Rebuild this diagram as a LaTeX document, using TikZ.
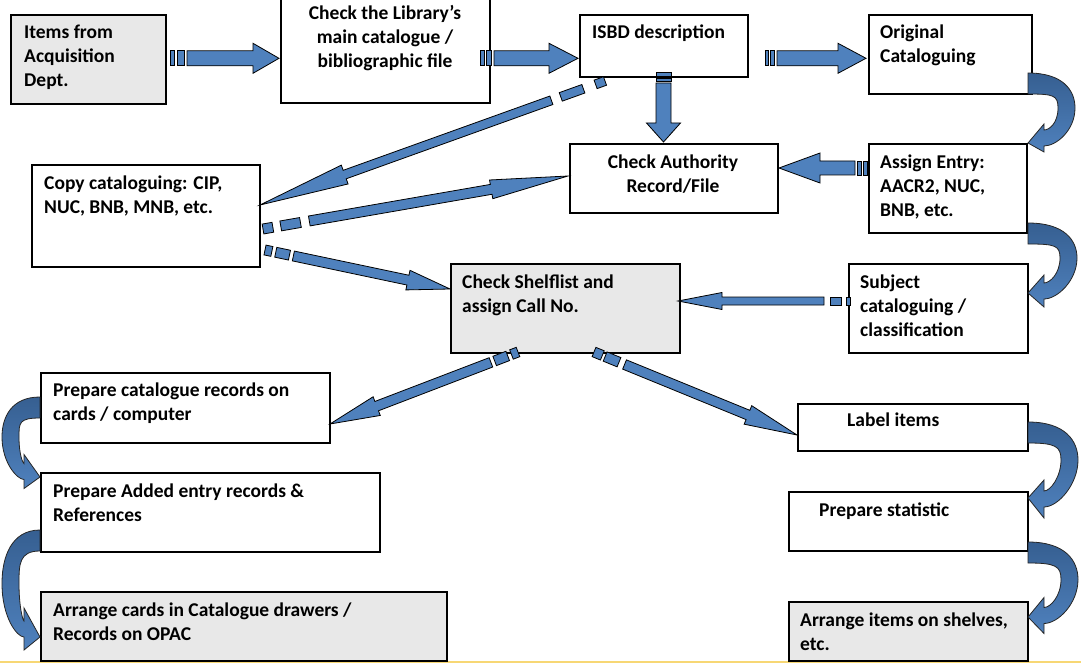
\documentclass[tikz,border=0pt]{standalone}
\usepackage{fontspec}
\setmainfont{Carlito}
\usetikzlibrary{calc}
\definecolor{arrowblue}{HTML}{4F81BD}
\definecolor{curvedark}{HTML}{365F91}
\definecolor{boxgray}{HTML}{E8E8E8}
\definecolor{baseyellow}{HTML}{F7D774}
\tikzset{
  box/.style={draw=black, line width=1.8pt, fill=white, inner sep=0pt, anchor=north west},
  graybox/.style={box, fill=boxgray},
  boxtext/.style={font=\bfseries\fontsize{19.5}{24}\selectfont, inner sep=0pt, align=left, anchor=north west, yshift=7.5pt},
  boxtextc/.style={boxtext, align=center, anchor=north},
  arrowbody/.style={fill=arrowblue, draw=black, line width=0.8pt, line join=miter},
  curvestyle/.style={draw=black!85, line width=0.8pt, top color=curvedark, bottom color=arrowblue, line join=miter},
}
% striped block arrow: from, to, half body, half head, head length, stripe1 end, stripe2 start, stripe2 end, body start
\newcommand\stripedblock[9]{%
  \coordinate (sa0) at ($(#1)!#9pt!(#2)$);
  \coordinate (sab) at ($(#2)!#5pt!(#1)$);
  \coordinate (ss1) at ($(#1)!#6pt!(#2)$);
  \coordinate (ss2) at ($(#1)!#7pt!(#2)$);
  \coordinate (ss3) at ($(#1)!#8pt!(#2)$);
  \draw[arrowbody] ($(sa0)!#3pt!90:(#2)$) -- ($(sab)!#3pt!90:(#2)$) -- ($(sab)!#4pt!90:(#2)$) -- (#2)
     -- ($(sab)!#4pt!-90:(#2)$) -- ($(sab)!#3pt!-90:(#2)$) -- ($(sa0)!#3pt!-90:(#2)$) -- cycle;
  \draw[arrowbody] ($(#1)!#3pt!90:(#2)$) -- ($(ss1)!#3pt!90:(#2)$) -- ($(ss1)!#3pt!-90:(#2)$) -- ($(#1)!#3pt!-90:(#2)$) -- cycle;
  \draw[arrowbody] ($(ss2)!#3pt!90:(#2)$) -- ($(ss3)!#3pt!90:(#2)$) -- ($(ss3)!#3pt!-90:(#2)$) -- ($(ss2)!#3pt!-90:(#2)$) -- cycle;
}
% curved block arrow: X, top of start, tip y, bulge, direction (1 right, -1 left), head half width, head centre offset above tip
\newcommand\curvedblock[7]{%
  \begin{scope}[shift={(#1,#2)}, xscale=#5]
    \pgfmathsetmacro\cH{#3-#2}
    \draw[curvestyle] (0,0) .. controls ({0.75*#4},0) and (#4,{0.25*\cH}) .. (#4,{0.5*\cH})
      .. controls (#4,{0.82*\cH}) and ({0.6*#4},{\cH-#7+8}) .. (16,{\cH-#7+8})
      -- (16,{\cH-#7+#6}) -- (0,\cH) -- (16,{\cH-#7-#6}) -- (16,{\cH-#7-8})
      .. controls ({0.45*#4},{\cH-#7-8}) and ({#4-17},{0.72*\cH}) .. ({#4-17},{0.5*\cH})
      .. controls ({#4-17},{0.32*\cH}) and ({0.55*#4},21) .. (0,21) -- cycle;
  \end{scope}}
\begin{document}
\begin{tikzpicture}[x=1pt,y=-1pt]
\useasboundingbox (0,0) rectangle (1081,663);
\fill[white] (0,0) rectangle (1081,663);
\draw[baseyellow, line width=1.5pt] (0,662) -- (1081,662);
% boxes
\node[graybox, minimum width=155, minimum height=89] (b1) at (10,14) {};
\node[box, minimum width=209, minimum height=107] (b2) at (280,-5) {};
\node[box, minimum width=168, minimum height=62] (b3) at (579,14) {};
\node[box, minimum width=163, minimum height=79] (b4) at (868,14) {};
\node[box, minimum width=208, minimum height=69] (b5) at (569,143) {};
\node[box, minimum width=158, minimum height=89] (b6) at (868,143) {};
\node[box, minimum width=228, minimum height=102] (b7) at (31,164) {};
\node[graybox, minimum width=229, minimum height=89] (b8) at (450,263) {};
\node[box, minimum width=179, minimum height=89] (b9) at (848,263) {};
\node[box, minimum width=289, minimum height=70] (b10) at (40,372) {};
\node[box, minimum width=230, minimum height=47] (b11) at (797,403) {};
\node[box, minimum width=339, minimum height=79] (b12) at (40,472) {};
\node[box, minimum width=239, minimum height=59] (b13) at (788,491) {};
\node[graybox, minimum width=406, minimum height=69] (b14) at (40,591) {};
\node[graybox, minimum width=239, minimum height=59] (b15) at (788,601) {};
% straight striped arrows
\coordinate (aA0) at (170,58.3); \coordinate (aA1) at (279,58.3);
\stripedblock{aA0}{aA1}{7.5}{15}{26}{4}{7}{14}{17}
\coordinate (aB0) at (480,58.3); \coordinate (aB1) at (578,58.3);
\stripedblock{aB0}{aB1}{7.5}{15}{29}{4}{6}{11}{14}
\coordinate (aC0) at (765,58.3); \coordinate (aC1) at (866,58.3);
\stripedblock{aC0}{aC1}{7.5}{15}{28}{3.5}{5.5}{9.5}{12}
\coordinate (aD0) at (663.5,72); \coordinate (aD1) at (663.5,142);
\stripedblock{aD0}{aD1}{7.5}{17}{19}{4}{6}{9}{11}
\coordinate (aE0) at (867,168); \coordinate (aE1) at (779,168);
\stripedblock{aE0}{aE1}{7}{15}{41}{3.5}{5.5}{10}{12}
\coordinate (aF0) at (850,301); \coordinate (aF1) at (678,301);
\stripedblock{aF0}{aF1}{4}{8.5}{44}{4}{9}{20}{26}
\coordinate (aG0) at (605,81); \coordinate (aG1) at (260,205);
\stripedblock{aG0}{aG1}{4.5}{10}{90}{10}{23}{47}{57}
\coordinate (aH0) at (263,229); \coordinate (aH1) at (568,176);
\stripedblock{aH0}{aH1}{5}{9.5}{78}{10}{18}{38}{47}
\coordinate (aI0) at (265,250); \coordinate (aI1) at (450,289);
\stripedblock{aI0}{aI1}{5}{10}{43}{7}{11}{25}{29}
\coordinate (aJ0) at (518,352); \coordinate (aJ1) at (330,424);
\stripedblock{aJ0}{aJ1}{5}{10}{50}{7}{11}{25}{29}
\coordinate (aK0) at (594,352); \coordinate (aK1) at (797,435);
\stripedblock{aK0}{aK1}{5}{10}{53}{9}{12}{27}{33}
% curved arrows
\curvedblock{1028}{73}{143}{47}{1}{14}{5}
\curvedblock{1028}{223}{293}{49}{1}{16}{2}
\curvedblock{1028}{422}{498}{50}{1}{19}{-1}
\curvedblock{1028}{542}{617}{50}{1}{18}{1.5}
\curvedblock{40}{397}{477}{38}{-1}{17}{5.5}
\curvedblock{40}{530}{637}{38}{-1}{21}{8}
% texts
\node[boxtext] (t1) at (24,32) {Items from\\Acquisition\\Dept.};
\node[boxtextc] (t2) at (385,13) {Check the Library’s\\main catalogue /\\bibliographic file};
\node[boxtext] (t3) at (592,32) {ISBD description};
\node[boxtext] (t4) at (880,32) {Original\\Cataloguing};
\node[boxtextc] (t5) at (673,162) {Check Authority\\Record/File};
\node[boxtext] (t6) at (880,162) {Assign Entry:\\AACR2, NUC,\\BNB, etc.};
\node[boxtext] (t7) at (44,183) {Copy cataloguing: CIP,\\NUC, BNB, MNB, etc.};
\node[boxtext] (t8) at (462,282) {Check Shelflist and\\assign Call No.};
\node[boxtext] (t9) at (860,282) {Subject\\cataloguing /\\classification};
\node[boxtext] (t10) at (53,390) {Prepare catalogue records on\\cards / computer};
\node[boxtext] (t11) at (847,420) {Label items};
\node[boxtext] (t12) at (53,491) {Prepare Added entry records \&\\References};
\node[boxtext] (t13) at (819,510) {Prepare statistic};
\node[boxtext] (t14) at (53,610) {Arrange cards in Catalogue drawers /\\Records on OPAC};
\node[boxtext] (t15) at (800,620) {Arrange items on shelves,\\etc.};
\end{tikzpicture}
\end{document}
